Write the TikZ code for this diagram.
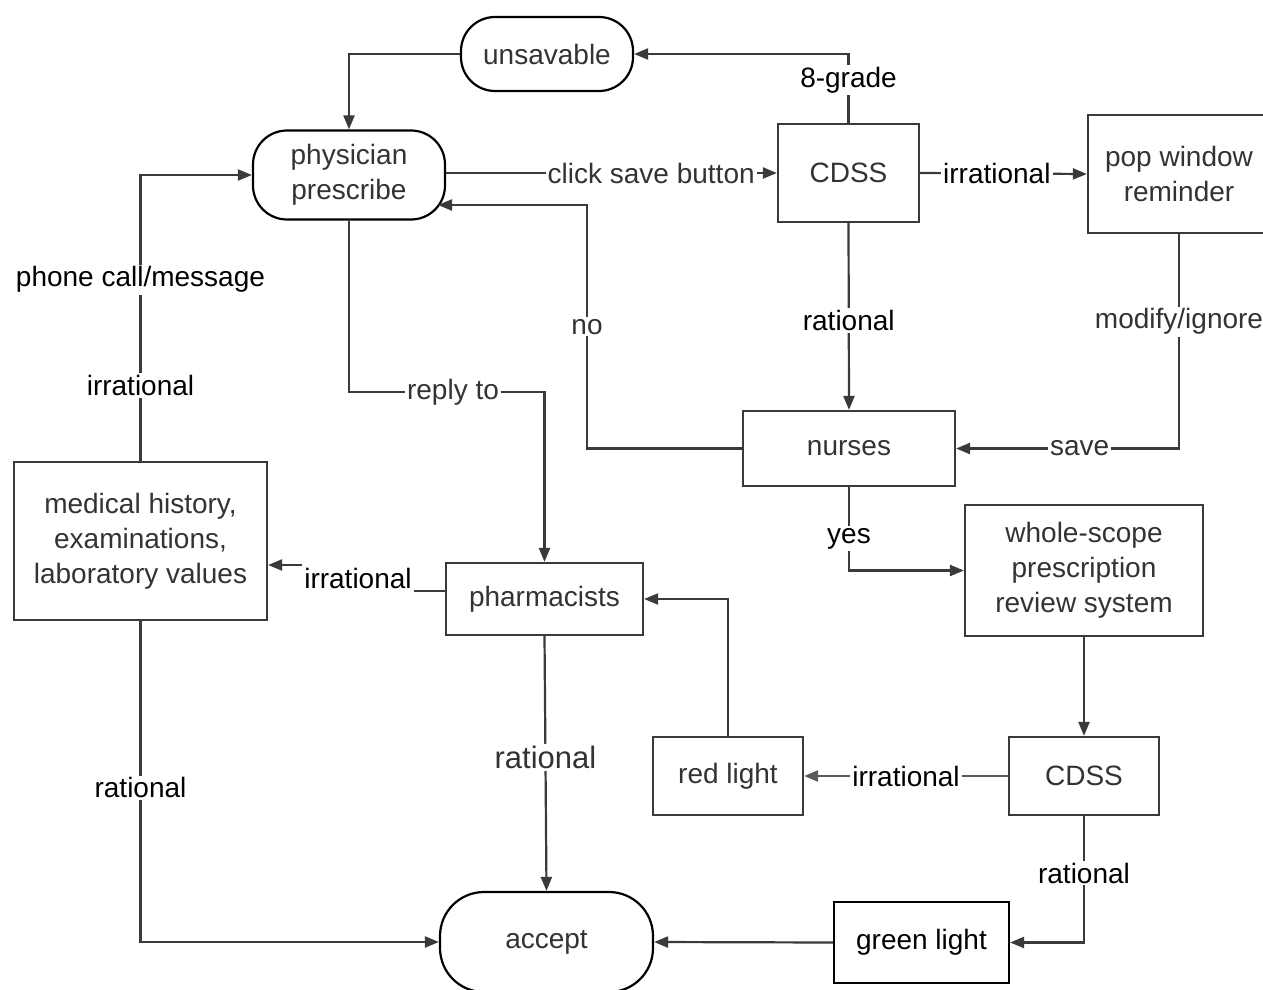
\documentclass[tikz,border=0pt]{standalone}
\usepackage{fontspec}
\setmainfont{Liberation Sans}
\usetikzlibrary{arrows.meta}
\definecolor{lc}{HTML}{3A3A3A}
\definecolor{tx}{HTML}{333333}
\definecolor{lg}{HTML}{5A5A5A}
\begin{document}
\begin{tikzpicture}[x=1pt,y=-1pt,
  font=\fontsize{28}{35}\selectfont,
  box/.style={draw=lc,line width=2.2pt,text=tx,align=center,inner sep=0pt},
  pill/.style={box,draw=black,rounded corners=34pt},
  lbl/.style={fill=white,text=black,inner sep=2pt},
  arr/.style={draw=lc,line width=2.2pt,-{Triangle[length=14pt,width=11pt]}}]
\useasboundingbox[fill=white] (0,0) rectangle (1263,990);

\node[pill,minimum width=172pt,minimum height=74pt] (uns) at (547,54) {unsavable};
\node[pill,minimum width=192pt,minimum height=89pt] (phy) at (349,175) {physician\\prescribe};
\node[box,minimum width=141pt,minimum height=98pt] (cdssa) at (848.5,173) {CDSS};
\node[box,minimum width=182pt,minimum height=118pt] (pop) at (1179,174) {pop window\\reminder};
\node[box,minimum width=212pt,minimum height=75pt] (nur) at (849,448.5) {nurses};
\node[box,minimum width=238pt,minimum height=131pt] (whole) at (1084,570.5) {whole-scope\\prescription\\review system};
\node[box,minimum width=253pt,minimum height=158pt] (med) at (140.5,541) {medical history,\\examinations,\\laboratory values};
\node[box,minimum width=197pt,minimum height=72pt] (pha) at (544.5,599) {pharmacists};
\node[box,minimum width=150pt,minimum height=78pt] (red) at (728,776) {red light};
\node[box,minimum width=150pt,minimum height=78pt] (cdssb) at (1084,776) {CDSS};
\node[box,draw=black,text=black,minimum width=175pt,minimum height=81pt] (green) at (921.5,942.5) {green light};
\node[pill,rounded corners=44pt,minimum width=213pt,minimum height=100pt] (acc) at (546.5,942) {accept};

\coordinate (phyin) at (438,205);
\coordinate (nobend) at (587,205);
\coordinate (irra) at (358,591);
\coordinate (irrb) at (358,565);

\draw[arr] (uns.west) -| (phy.north);
\draw[arr] (cdssa.north) |- node[lbl,pos=0.31]{8-grade} (uns.east);
\draw[arr] (phy.east |- cdssa.west) -- node[lbl,text=tx,pos=0.62]{click save button} (cdssa.west);
\draw[arr] (cdssa.east) -- node[lbl,pos=0.46]{irrational} (pop.west);
\draw[arr] (cdssa.south) -- node[lbl,pos=0.52]{rational} (nur.north);
\draw[arr] (pop.south) |- node[lbl,text=tx,pos=0.204]{modify/ignore} node[lbl,text=tx,pos=0.723]{save} (nur.east);
\draw[arr] (nur.west) -| node[lbl,text=tx,pos=0.75]{no} (nobend) -- (phyin);
\draw[arr] (nur.south) |- node[lbl,pos=0.31]{yes} (whole.west);
\draw[arr] (phy.south) |- node[lbl,text=tx,pos=0.766]{reply to} (pha.north |- 0,392) -- (pha.north);
\draw[arr] (pha.west |- irra) -- (irra) -- node[lbl,inner ysep=9pt]{irrational} (irrb) -- (med.east |- irrb);
\draw[arr] (med.north) |- node[lbl,pos=0.132]{irrational} node[lbl,pos=0.317]{phone call/message} (phy.west);
\draw[arr] (med.south) |- node[lbl,pos=0.26]{rational} (acc.west);
\draw[arr] (pha.south) -- node[lbl,text=tx,pos=0.475,font=\fontsize{31}{35}\selectfont]{rational} (acc.north);
\draw[arr] (red.north) |- (pha.east);
\draw[arr,draw=lg] (cdssb.west) -- node[lbl,pos=0.5]{irrational} (red.east);
\draw[arr] (whole.south) -- (cdssb.north);
\draw[arr] (cdssb.south) |- node[lbl,pos=0.225]{rational} (green.east);
\draw[arr] (green.west) -- (acc.east);
\end{tikzpicture}
\end{document}
